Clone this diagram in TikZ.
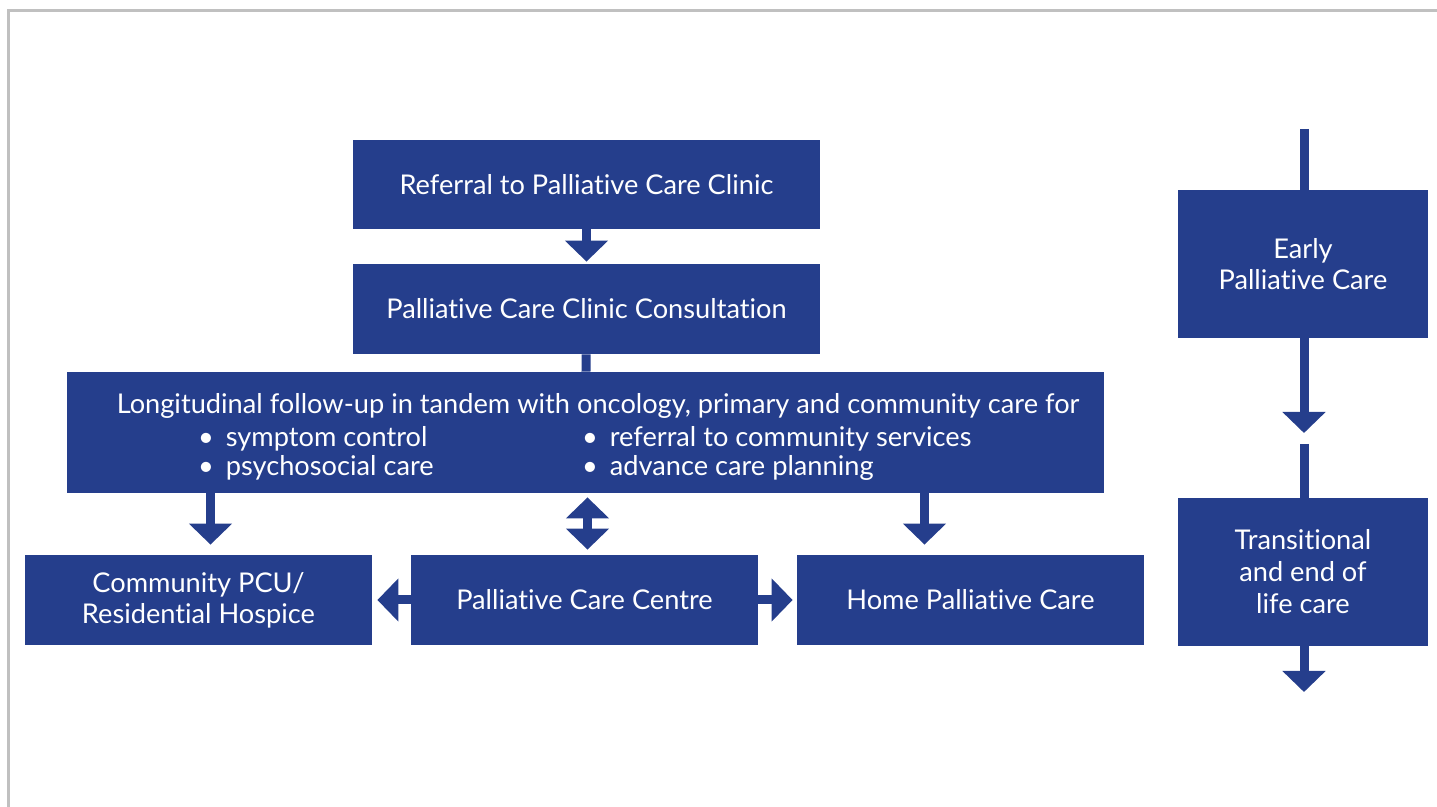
\documentclass[tikz,border=0pt]{standalone}
\usepackage{fontspec}
\setmainfont{Lato}[Ligatures=NoCommon]
\usetikzlibrary{arrows.meta}

\definecolor{careblue}{RGB}{37,62,140}
\definecolor{framegray}{RGB}{192,192,192}

\begin{document}
\begin{tikzpicture}[x=0.5pt, y=-0.5pt,
    every node/.style={font=\fontsize{13.6}{15.5}\selectfont, text=white},
    box/.style={fill=careblue, inner sep=0pt, align=center},
    stem/.style={careblue, line width=4.5pt},
    flow/.style={stem, -{Triangle[width=21pt,length=10.5pt]}},
    twoway/.style={stem, {Triangle[width=21pt,length=10.5pt]}-{Triangle[width=21pt,length=10.5pt]}}]

    \useasboundingbox (0,0) rectangle (1437,807);

    % Frame lines on the top and left
    \draw[framegray, line width=1.5pt] (8,807) -- (8,11) -- (1437,11);

    % Main clinic path
    \node[box, minimum width=233.5pt, minimum height=44.5pt] (ref) at (586.5,184.5) {Referral to Palliative Care Clinic};
    \node[box, minimum width=233.5pt, minimum height=45pt] (consult) at (586.5,309) {Palliative Care Clinic Consultation};
    \node[box, minimum width=518.5pt, minimum height=60.5pt] (followup) at (585.5,432.5) {};

    % Text inside the follow-up box
    \node (fuhead) at (598,406) {Longitudinal follow-up in tandem with oncology, primary and community care for};
    \node[anchor=west, align=left, font=\fontsize{13.6}{14.5}\selectfont] (fuleft) at (191,453) {\textbullet\hspace{6pt}symptom control\\ \textbullet\hspace{6pt}psychosocial care};
    \node[anchor=west, align=left, font=\fontsize{13.6}{14.5}\selectfont] (furight) at (575,453) {\textbullet\hspace{6pt}referral to community services\\ \textbullet\hspace{6pt}advance care planning};

    % Settings of care
    \node[box, minimum width=173.5pt, minimum height=45pt] (hospice) at (198.5,600) {Community PCU/\\Residential Hospice};
    \node[box, minimum width=173.5pt, minimum height=45pt] (centre) at (584.5,600) {Palliative Care Centre};
    \node[box, minimum width=173.5pt, minimum height=45pt] (home) at (970.5,600) {Home Palliative Care};

    \draw[flow, shorten >=1pt] (ref) -- (consult);
    \draw[stem] (consult) -- (followup);
    \draw[flow, shorten >=5pt] ([xshift=6pt]followup.south -| hospice.north) -- ([xshift=6pt]hospice.north);
    \draw[flow, shorten >=5pt] ([xshift=-23pt]followup.south -| home.north) -- ([xshift=-23pt]home.north);
    \draw[twoway, shorten <=2pt, shorten >=2.5pt] ([xshift=1.5pt]followup.south -| centre.north) -- ([xshift=1.5pt]centre.north);
    \draw[flow, shorten >=2.5pt] (centre) -- (hospice);
    \draw[flow, shorten >=2pt] (centre) -- (home);

    % Timeline on the right
    \node[box, minimum width=125pt, minimum height=74pt] (early) at (1303,264) {Early\\Palliative Care};
    \node[box, minimum width=125pt, minimum height=74pt, font=\fontsize{13.6}{16}\selectfont] (trans) at (1303,572) {Transitional\\and end of\\life care};

    \coordinate (linetop) at (1304,129);
    \coordinate (midtip) at (1304,433);
    \coordinate (midgap) at (1304,444);
    \coordinate (endtip) at (1304,692);

    \draw[stem] (linetop) -- (linetop |- early.north);
    \draw[flow] (linetop |- early.south) -- (midtip);
    \draw[stem] (midgap) -- (midgap |- trans.north);
    \draw[flow] (endtip |- trans.south) -- (endtip);

\end{tikzpicture}
\end{document}
